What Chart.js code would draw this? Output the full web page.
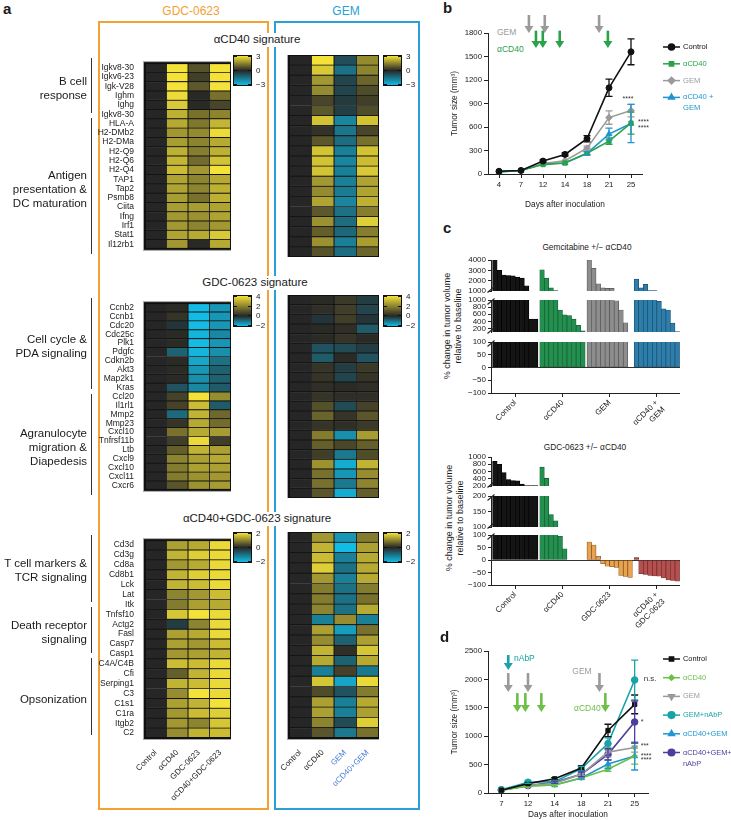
<!DOCTYPE html>
<html><head><meta charset="utf-8">
<script src="https://cdn.jsdelivr.net/npm/chart.js@4.4.1/dist/chart.umd.min.js"></script>
<style>
html,body{margin:0;padding:0;background:#fff;}
body{width:731px;height:820px;position:relative;overflow:hidden;font-family:'Liberation Sans',Arial,Helvetica,sans-serif;color:#1a1a1a;}
canvas{position:absolute;}
.t{position:absolute;white-space:nowrap;line-height:1.15;}
.bx{position:absolute;box-sizing:border-box;}
</style></head><body>
<script>
// ================= DATA =================
const condGDC = ['Control','αCD40','GDC-0623','αCD40+GDC-0623'];
const condGEM = ['Control','αCD40','GEM','αCD40+GEM'];

const genesCD40 = ['Igkv8-30','Igkv6-23','Igk-V28','Ighm','Ighg','Igkv8-30','HLA-A','H2-DMb2','H2-DMa','H2-Q9','H2-Q6','H2-Q4','TAP1','Tap2','Psmb8','Ciita','Ifng','Irf1','Stat1','Il12rb1'];
const genesGDC = ['Ccnb2','Ccnb1','Cdc20','Cdc25c','Plk1','Pdgfc','Cdkn2b','Akt3','Map2k1','Kras','Ccl20','Il1rl1','Mmp2','Mmp23','Cxcl10','Tnfrsf11b','Ltb','Cxcl9','Cxcl10','Cxcl11','Cxcr6'];
const genesCombo = ['Cd3d','Cd3g','Cd8a','Cd8b1','Lck','Lat','Itk','Tnfsf10','Actg2','Fasl','Casp7','Casp1','C4A/C4B','Cfi','Serping1','C3','C1s1','C1ra','Itgb2','C2'];

const groupsCD40 = [['B cell','response'],['Antigen','presentation &','DC maturation']];
const groupRowsCD40 = [[0,5],[6,19]];
const groupsGDC = [['Cell cycle &','PDA signaling'],['Agranulocyte','migration &','Diapedesis']];
const groupRowsGDC = [[0,9],[10,20]];
const groupsCombo = [['T cell markers &','TCR signaling'],['Death receptor','signaling'],['Opsonization']];
const groupRowsCombo = [[0,6],[7,11],[12,19]];

// colour-scale ranges [min, max] and colourbar tick labels
const rangeCD40 = [-3,3], ticksCD40 = [3,0,-3];
const rangeGDC = [-2,4], ticksGDC = [4,2,0,-2];
const rangeCombo = [-2,2], ticksCombo = [2,0,-2];

// rows: [Control, αCD40, drug, αCD40+drug]
const cd40SigGDC = [[0,3.0,0.7,3.0],[0,3.0,0.4,3.0],[0,3.0,0.8,3.0],[0,2.9,0.05,1.2],[0,2.6,0.05,0.5],[0,2.2,1.2,1.5],[0,2.1,1.3,2.3],[0,1.8,1.6,2.9],[0,1.9,1.5,2.1],[0,2.2,1.4,2.2],[0,2.3,1.1,2.5],[0,2.4,1.8,3.0],[0,2.0,1.5,2.1],[0,2.0,1.5,2.2],[0,1.9,1.2,2.2],[0,1.9,1.9,2.0],[0,1.8,1.7,2.0],[0,1.8,1.5,1.8],[0,2.0,2.1,2.6],[0,1.8,0.05,2.1]];
const cd40SigGEM = [[0,3.0,-0.8,1.6],[0,2.6,-1.5,1.5],[0,1.8,-0.6,1.0],[0,1.6,-0.6,0.6],[0,0.5,-0.4,0.4],[0,0.8,-0.5,0.6],[0,2.5,-1.9,2.5],[0,0.2,-1.6,0.5],[0,0.8,-1.4,1.2],[0,2.5,-1.8,2.5],[0,2.5,-1.9,2.4],[0,2.5,-1.8,2.6],[0,1.8,-1.8,2.0],[0,1.6,-1.7,2.0],[0,2.0,-1.9,2.2],[0,0.8,-1.5,1.4],[0,1.7,-1.4,2.7],[0,0.9,-1.3,1.4],[0,1.7,-1.8,1.9],[0,0.7,-1.4,1.0]];
const gdcSigGDC = [[0,0.1,-2.0,-1.5],[0,0.3,-2.0,-1.5],[0,-0.2,-2.0,-1.5],[0,0.1,-1.9,-1.3],[0,0.1,-2.0,-1.5],[0,-0.8,-1.9,-1.4],[0,0.1,-1.7,-1.0],[0,0.1,-1.5,-0.8],[0,0.1,-1.4,-0.8],[0,-0.6,-1.3,-0.7],[0,0.6,4.0,2.2],[0,0.6,3.2,-0.7],[0,-0.9,3.0,1.4],[0,0.3,2.8,1.5],[0,1.6,2.8,2.5],[0,0.5,3.8,0.5],[0,1.2,3.0,2.6],[0,2.0,2.6,2.8],[0,1.8,2.6,2.6],[0,1.8,2.3,2.4],[0,1.0,2.3,2.5]];
const gdcSigGEM = [[0,0.1,0.4,-0.3],[0,0.2,0.5,-0.4],[0,-0.2,0.5,-0.2],[0,0.1,0.2,-0.7],[0,0.1,0.3,0.1],[0,-0.6,-0.5,-0.3],[0,-0.7,0.1,-0.6],[0,0.3,-0.3,0.4],[0,0.3,-0.4,0.3],[0,0.2,0.1,0.2],[0,0.3,0.2,0.2],[0,0.9,-0.5,0.6],[0,1.3,0.3,1.0],[0,0.3,0.2,0.4],[0,1.8,-1.4,2.5],[0,1.2,0.7,1.2],[0,0.5,-1.1,0.8],[0,2.3,-1.8,3.0],[0,1.6,-1.5,2.2],[0,1.6,-1.1,2.0],[0,1.0,-1.8,1.2]];
const comboSigGDC = [[0,1.3,1.4,1.9],[0,1.5,1.8,1.9],[0,1.2,1.4,1.9],[0,1.5,1.8,1.9],[0,1.5,1.6,1.9],[0,1.0,1.2,1.6],[0,0.9,1.3,1.4],[0,1.7,2.0,1.9],[0,-0.3,1.0,1.9],[0,1.3,1.4,1.9],[0,1.3,1.2,1.6],[0,1.2,1.3,1.5],[0,1.6,1.6,1.9],[0,0.6,1.5,1.9],[0,1.5,1.6,1.9],[0,1.1,2.0,1.9],[0,1.3,1.5,2.0],[0,1.2,1.6,1.8],[0,1.2,1.0,1.7],[0,1.1,1.5,1.6]];
const comboSigGEM = [[0,1.2,-1.5,0.9],[0,1.5,-2.0,1.3],[0,1.6,-1.2,1.4],[0,1.8,-1.0,1.4],[0,1.2,-1.2,1.4],[0,0.9,-1.0,0.9],[0,0.9,-1.0,0.8],[0,1.0,-1.0,1.4],[0,-1.2,1.1,-1.2],[0,1.3,-1.6,0.8],[0,1.1,-0.8,1.3],[0,1.5,0.1,1.7],[0,1.4,-0.8,1.4],[0,-1.2,0.3,-1.1],[0,1.7,-1.7,1.9],[0,0.4,-0.6,0.9],[0,1.3,-1.2,1.4],[0,1.3,-1.2,1.3],[0,1.0,-0.5,1.8],[0,0.5,-1.1,0.8]];

// panel b
const daysB = ['4','7','12','14','18','21','25'];
const bTicks = [0,300,600,900,1200,1500,1800];
const bControl = [35,45,165,250,450,1100,1560];
const bControlErr = [0,0,15,20,40,110,165];
const bCD40 = [30,45,120,140,265,420,650];
const bCD40Err = [0,0,0,0,20,40,140];
const bGEM = [30,45,135,170,330,720,810];
const bGEMErr = [0,0,0,0,25,85,80];
const bCombo = [25,45,130,140,265,510,645];
const bComboErr = [0,0,0,0,20,75,245];

// panel c (top): % change relative to baseline per mouse
const cTopLabels = ['Control','αCD40','GEM',['αCD40 +','GEM']];
const cTopControl = [4000,3000,2550,2500,2480,2350,2250,1500,460,460];
const cTopCD40 = [3050,2250,1300,1050,720,580,560,460,290,130];
const cTopGEM = [4000,3200,1700,1300,1250,1250,980,720,360];
const cTopCombo = [2150,1300,1650,1050,1050,960,750,720,350,110];
const cTopTicks = [[1000,2000,3000,4000],[200,400,600,800,1000],[-100,-50,0,50,100]];
// panel c (bottom)
const cBotLabels = ['Control','αCD40','GDC-0623',['αCD40 +','GDC-0623']];
const cBotControl = [880,800,570,380,350,340,250,210,210,210];
const cBotCD40 = [720,410,140,120,95,45];
const cBotGDC = [72,60,15,-15,-25,-27,-30,-62,-66,-70];
const cBotCombo = [10,-55,-58,-62,-64,-65,-72,-80,-82,-85];
const cBotTicks = [[200,400,600,800,1000],[100,150,200],[-100,-50,0,50,100]];

// panel d
const daysD = ['7','12','14','18','21','25'];
const dTicks = [0,500,1000,1500,2000,2500];
const dControl = [50,165,250,440,1100,1560];
const dControlErr = [0,15,20,40,110,165];
const dCD40 = [50,120,140,265,420,650];
const dCD40Err = [0,0,0,20,40,140];
const dGEM = [50,130,170,330,720,800];
const dGEMErr = [0,0,0,25,85,80];
const dGEMnab = [55,190,200,430,870,1990];
const dGEMnabErr = [0,20,20,40,100,350];
const dCombo = [50,130,140,265,510,650];
const dComboErr = [0,0,0,20,75,245];
const dComboNab = [55,130,190,330,680,1250];
const dComboNabErr = [0,0,20,40,100,370];

// ================= SETUP =================
const FONT = "'Liberation Sans', Arial, Helvetica, sans-serif";
Chart.defaults.font.family = FONT;
Chart.defaults.color = '#1a1a1a';
Chart.defaults.animation = false;
Chart.defaults.responsive = false;
Chart.defaults.plugins.legend.display = false;
Chart.defaults.plugins.tooltip.enabled = false;

function mkCanvas(l,t,w,h){const c=document.createElement('canvas');c.width=w;c.height=h;c.style.left=l+'px';c.style.top=t+'px';c.style.width=w+'px';c.style.height=h+'px';document.body.appendChild(c);return c;}
function txt(s,x,y,o={}){const d=document.createElement('div');d.className='t';const fs=o.size||11;d.style.fontSize=fs+'px';d.style.color=o.color||'#1a1a1a';if(o.bold)d.style.fontWeight='bold';d.textContent=s;d.style.top=(y-fs*1.15/2)+'px';
 if(o.align==='right'){d.style.right=(731-x)+'px';d.style.textAlign='right';}
 else if(o.align==='center'){d.style.left=x+'px';d.style.transform='translateX(-50%)';}
 else d.style.left=x+'px';
 if(o.bg){d.style.background=o.bg;d.style.padding='0 3px';}
 document.body.appendChild(d);return d;}
function box(l,t,w,h,css){const d=document.createElement('div');d.className='bx';Object.assign(d.style,{left:l+'px',top:t+'px',width:w+'px',height:h+'px'},css);document.body.appendChild(d);return d;}
const fmt = v => v<0 ? '\u2212'+Math.abs(v) : String(v);

const DARK=[38,38,38], YEL=[244,226,56], CYA=[18,188,228];
function colorFor(v,vmin,vmax){let t,c;if(v>=0){t=Math.min(v/vmax,1);c=YEL;}else{t=Math.min(v/vmin,1);c=CYA;}
 return 'rgb('+DARK.map((d,i)=>Math.round(d+(c[i]-d)*t)).join(',')+')';}

// ================= PANEL A (frames and titles) =================
txt('a',3,9,{size:15,bold:true});
box(98,21,171,789,{border:'2px solid #f3a133'});
box(274,21,146,789,{border:'2px solid #2aa0d4'});
txt('GDC-0623',191,12,{size:12,color:'#f3a133',align:'center'});
txt('GEM',346,12,{size:12,color:'#2aa0d4',align:'center'});
txt('αCD40 signature',257,40,{size:11.5,align:'center',bg:'#fff'});
txt('GDC-0623 signature',255,283,{size:11.5,align:'center',bg:'#fff'});
txt('αCD40+GDC-0623 signature',257,519,{size:11.5,align:'center',bg:'#fff'});

const framePlugin={id:'frame',afterDatasetsDraw(ch){const a=ch.chartArea,c=ch.ctx;c.save();c.strokeStyle='#101010';c.lineWidth=2;c.strokeRect(a.left,a.top,a.width,a.height);c.strokeStyle='rgba(0,0,0,0.35)';c.lineWidth=1;c.strokeRect(a.left-1.5,a.top-1.5,a.width+3,a.height+3);c.restore();}};

function heatmap(l,t,w,h,genes,conds,rows,rng,showGenes,showX,xColor){
 const cv=mkCanvas(l,t,w,h);
 const datasets=conds.map((c,j)=>({label:c,data:genes.map(()=>1),backgroundColor:rows.map(r=>colorFor(r[j],rng[0],rng[1])),borderColor:'#141414',borderWidth:0.8,borderSkipped:false,barPercentage:1,categoryPercentage:1}));
 const scales={
  x:{stacked:true,min:0,max:conds.length,display:false},
  y:{stacked:true,grid:{display:false},border:{display:false},ticks:{display:showGenes,font:{size:8.5},color:'#222',padding:3,autoSkip:false},afterFit:s=>{s.width=showGenes?70:20;}}
 };
 if(showX) scales.xl={type:'category',labels:conds,position:'bottom',offset:true,grid:{display:false},border:{display:false},
   ticks:{autoSkip:false,minRotation:45,maxRotation:45,font:{size:8},padding:2,color:c=>xColor(c.index)},afterFit:s=>{s.height=64;}};
 new Chart(cv,{type:'bar',data:{labels:genes,datasets},options:{indexAxis:'y',layout:{padding:0},scales},plugins:[framePlugin]});
}
function colorbar(x,y,w,h,rng,ticks){
 const z=rng[1]/(rng[1]-rng[0])*100;
 box(x,y,w,h,{border:'1.5px solid #111',background:`linear-gradient(to bottom, ${colorFor(rng[1],rng[0],rng[1])} 0%, ${colorFor(0,rng[0],rng[1])} ${z}%, ${colorFor(rng[0],rng[0],rng[1])} 100%)`});
 ticks.forEach(v=>{const yy=y+1.5+(rng[1]-v)/(rng[1]-rng[0])*(h-3);
  box(x+1,yy-0.5,3,1,{background:'#111'});box(x+w-4,yy-0.5,3,1,{background:'#111'});
  txt(fmt(v),x+w+4,yy,{size:8});});
}
function groupLabels(names,rowsIdx,top,rowH){
 names.forEach((lines,i)=>{const y0=top+rowsIdx[i][0]*rowH,y1=top+(rowsIdx[i][1]+1)*rowH;
  box(90.5,y0+2.5,1,y1-y0-5,{background:'#333'});
  const mid=(y0+y1)/2+3, lh=14;
  lines.forEach((s,k)=>txt(s,87,mid+(k-(lines.length-1)/2)*lh,{size:11.5,align:'right'}));});
}
const blk=()=> '#1a1a1a';
const gemCol=i=> i>=2 ? '#4d7fd6' : '#1a1a1a';

heatmap(75,55,156,202,genesCD40,condGDC,cd40SigGDC,rangeCD40,true,false);
heatmap(269,55,110,202,genesCD40,condGEM,cd40SigGEM,rangeCD40,false,false);
heatmap(75,295,156,203,genesGDC,condGDC,gdcSigGDC,rangeGDC,true,false);
heatmap(269,295,110,203,genesGDC,condGEM,gdcSigGEM,rangeGDC,false,false);
heatmap(75,532,156,270,genesCombo,condGDC,comboSigGDC,rangeCombo,true,true,blk);
heatmap(269,532,110,270,genesCombo,condGEM,comboSigGEM,rangeCombo,false,true,gemCol);
colorbar(233,55,19,31,rangeCD40,ticksCD40);
colorbar(383,55,19,31,rangeCD40,ticksCD40);
colorbar(233,295,19,32,rangeGDC,ticksGDC);
colorbar(383,295,19,32,rangeGDC,ticksGDC);
colorbar(233,532,19,31,rangeCombo,ticksCombo);
colorbar(383,532,19,31,rangeCombo,ticksCombo);
groupLabels(groupsCD40,groupRowsCD40,55,202/20);
groupLabels(groupsGDC,groupRowsGDC,295,203/21);
groupLabels(groupsCombo,groupRowsCombo,532,206/20);

// ================= LINE CHART HELPERS =================
const errPlugin={id:'err',afterDatasetsDraw(ch){const c=ch.ctx,ys=ch.scales.y;c.save();
 ch.data.datasets.forEach((d,i)=>{if(!d.errors)return;const m=ch.getDatasetMeta(i);
  d.errors.forEach((e,j)=>{if(!e)return;const p=m.data[j],v=d.data[j];const y1=ys.getPixelForValue(v+e),y2=ys.getPixelForValue(v-e);
   c.strokeStyle=d.borderColor;c.lineWidth=1.3;c.beginPath();c.moveTo(p.x,y1);c.lineTo(p.x,y2);c.moveTo(p.x-3.5,y1);c.lineTo(p.x+3.5,y1);c.moveTo(p.x-3.5,y2);c.lineTo(p.x+3.5,y2);c.stroke();});});
 c.restore();}};
const legPlugin={id:'leg',afterDraw(ch,args,o){const c=ch.ctx,a=ch.chartArea;c.save();
 ch.data.datasets.forEach((d,i)=>{const y=a.top+o.y0+i*o.dy,x0=a.right+o.x0;
  c.strokeStyle=d.borderColor;c.lineWidth=1.5;c.beginPath();c.moveTo(x0,y);c.lineTo(x0+o.len,y);c.stroke();
  c.fillStyle=d.backgroundColor;Chart.helpers.drawPoint(c,{pointStyle:d.pointStyle,radius:d.pointRadius,rotation:d.pointRotation||0,borderWidth:1},x0+o.len/2,y);
  c.fillStyle=d.borderColor;c.font=o.size+'px '+FONT;c.textBaseline='middle';c.textAlign='left';
  [].concat(d.label).forEach((s,k)=>c.fillText(s,x0+o.len+3,y+k*o.lh));});
 c.restore();}};
const notePlugin={id:'note',afterDraw(ch,args,o){const c=ch.ctx,xs=ch.scales.x,ys=ch.scales.y;c.save();
 (o.arrows||[]).forEach(r=>{const x=xs.getPixelForValue(r.x),y1=ys.getPixelForValue(r.y1),y2=ys.getPixelForValue(r.y2);
  c.strokeStyle=r.color;c.fillStyle=r.color;c.lineWidth=2.6;c.beginPath();c.moveTo(x,y1);c.lineTo(x,y2-5);c.stroke();
  c.beginPath();c.moveTo(x-4.5,y2-7);c.lineTo(x+4.5,y2-7);c.lineTo(x,y2);c.closePath();c.fill();});
 (o.texts||[]).forEach(t=>{c.fillStyle=t.color||'#333';c.font=(t.size||7)+'px '+FONT;c.textAlign=t.align||'left';c.textBaseline='middle';
  c.fillText(t.text,xs.getPixelForValue(t.x)+(t.dx||0),ys.getPixelForValue(t.y));});
 c.restore();}};
function lds(label,data,errors,color,style,r,rot){return {label,data,errors,borderColor:color,backgroundColor:color,pointStyle:style,pointRadius:r,pointRotation:rot||0,pointBorderWidth:1,borderWidth:1.6,tension:0};}
function axisCommon(){return {grid:{drawOnChartArea:false,tickLength:4,color:'#222',tickWidth:1},border:{color:'#222',width:1}};}

// ================= PANEL B =================
txt('b',443,8,{size:15,bold:true});
txt('GEM',497,33,{size:8.5,color:'#9a9a9a'});
txt('αCD40',497,50,{size:8.5,color:'#2aa24a'});
{
 const cv=mkCanvas(450,0,281,210);
 const gx=axisCommon(), gy=axisCommon();
 new Chart(cv,{type:'line',data:{labels:daysB,datasets:[
   lds('Control',bControl,bControlErr,'#111','circle',3),
   lds('αCD40',bCD40,bCD40Err,'#2aa24a','rect',3),
   lds('GEM',bGEM,bGEMErr,'#9a9a9a','rectRot',3.3),
   lds(['αCD40 +','GEM'],bCombo,bComboErr,'#1f95cf','triangle',3.4)]},
  options:{layout:{padding:{top:33,right:89,left:0,bottom:0}},
   scales:{
    x:{offset:true,...gx,ticks:{font:{size:7.8},padding:2,color:'#222'},title:{display:true,text:'Days after inoculation',font:{size:8.3},color:'#222',padding:{top:2,bottom:0}},afterFit:s=>{s.height=36;}},
    y:{min:0,max:1800,...gy,afterBuildTicks:s=>{s.ticks=bTicks.map(v=>({value:v}));},ticks:{font:{size:7.8},padding:2,color:'#222',autoSkip:false,callback:v=>fmt(v)},title:{display:true,text:'Tumor size (mm³)',font:{size:8.3},color:'#222',padding:0},afterFit:s=>{s.width=38;}}},
   plugins:{leg:{x0:21,len:17,y0:14,dy:16.8,lh:11,size:7.6},
    note:{arrows:[{x:1.36,y1:2030,y2:1800,color:'#9a9a9a'},{x:2.08,y1:2030,y2:1800,color:'#9a9a9a'},{x:4.55,y1:2030,y2:1800,color:'#9a9a9a'},
                  {x:1.68,y1:1830,y2:1610,color:'#2aa24a'},{x:1.99,y1:1830,y2:1610,color:'#2aa24a'},{x:2.76,y1:1830,y2:1610,color:'#2aa24a'},{x:4.95,y1:1830,y2:1610,color:'#2aa24a'}],
          texts:[{x:6,y:960,text:'****',align:'center',dx:-3},{x:6,y:665,text:'****',dx:7},{x:6,y:590,text:'****',dx:7}]}}},
  plugins:[errPlugin,legPlugin,notePlugin]});
}

// ================= PANEL C =================
const STRIDE=10.4, XMIN=-0.35, XMAX=41.3;
const brkPlugin={id:'brk',afterDraw(ch,args,o){const a=ch.chartArea,c=ch.ctx;c.save();c.strokeStyle='#222';c.lineWidth=1.1;
 const sl=y=>{c.beginPath();c.moveTo(a.left-3.5,y+3);c.lineTo(a.left+3.5,y-3);c.stroke();};
 if(o.top)sl(a.top+1.5);if(o.bottom)sl(a.bottom-1.5);c.restore();}};
function waterfall(cfg){
 cfg.segs.forEach((sg,si)=>{
  const last=si===cfg.segs.length-1, padT=8, padB=8;
  const h=(sg.bottom-sg.top)+padT+(last?cfg.axisH:padB);
  const cv=mkCanvas(cfg.left,sg.top-padT,cfg.width,h);
  const datasets=cfg.groups.map((vals,gi)=>({data:vals.map((v,i)=>({x:gi*STRIDE+i+0.5,y:v})),backgroundColor:cfg.colors[gi],borderColor:cfg.borders[gi],borderWidth:0.7,borderSkipped:false,grouped:false,barPercentage:1,categoryPercentage:1,clip:0}));
  const xs={type:'linear',offset:false,min:XMIN,max:XMAX,display:last,
       afterBuildTicks:s=>{s.ticks=cfg.labels.map((l,i)=>({value:i*STRIDE+5}));},
       ticks:{autoSkip:false,minRotation:45,maxRotation:45,font:{size:8},padding:1,color:'#222',callback:(v,i)=>cfg.labels[i]},
       grid:{drawOnChartArea:false,tickLength:4,color:'#222',offset:false},border:{color:'#222'}};
  if(last) xs.afterFit=s=>{s.height=cfg.axisH;};
  new Chart(cv,{type:'bar',data:{datasets},options:{
   layout:{padding:{top:padT,bottom:last?0:padB,left:0,right:0}},
   scales:{
    x:xs,
    y:{min:sg.min,max:sg.max,afterBuildTicks:s=>{s.ticks=cfg.ticks[si].map(v=>({value:v}));},
       ticks:{font:{size:8},padding:2,color:'#222',autoSkip:false,callback:v=>fmt(v)},
       grid:{color:c=>(c.tick&&c.tick.value===0&&sg.min<0)?'#333':'rgba(0,0,0,0)',tickColor:'#222',tickLength:3},
       border:{color:'#222'},afterFit:s=>{s.width=cfg.yW;}}},
   plugins:{brk:{top:si>0,bottom:!last}}},plugins:[brkPlugin]});
 });
}
txt('c',443,228,{size:15,bold:true});
txt('Gemcitabine +/\u2212 αCD40',587,248,{size:8.3,align:'center'});
txt('GDC-0623 +/\u2212 αCD40',585,448,{size:8.3,align:'center'});
function ytitle(x,y){const d=document.createElement('div');d.className='t';d.style.fontSize='9px';d.style.textAlign='center';d.style.left=x+'px';d.style.top=y+'px';d.style.transform='translate(-50%,-50%) rotate(-90deg)';d.style.lineHeight='10.5px';d.innerHTML='% change in tumor volume<br>relative to baseline';document.body.appendChild(d);}
ytitle(452,326);
ytitle(454,518);
waterfall({left:440,width:240,yW:51,axisH:45,labels:cTopLabels,ticks:cTopTicks,
 groups:[cTopControl,cTopCD40,cTopGEM,cTopCombo],
 colors:['#141414','#23904f','#8d8d8d','#2d7eaa'],borders:['#000','#0f5a2c','#555','#1a4d6d'],
 segs:[{min:1000,max:4000,top:260,bottom:291},{min:100,max:1000,top:300,bottom:332},{min:-100,max:100,top:342,bottom:393}]});
waterfall({left:440,width:240,yW:51,axisH:45,labels:cBotLabels,ticks:cBotTicks,
 groups:[cBotControl,cBotCD40,cBotGDC,cBotCombo],
 colors:['#141414','#23904f','#e9a24f','#b5504f'],borders:['#000','#0f5a2c','#7a4c18','#6a2828'],
 segs:[{min:200,max:1000,top:457,bottom:486},{min:100,max:200,top:496,bottom:527},{min:-100,max:100,top:535,bottom:585}]});

// ================= PANEL D =================
txt('d',440,637,{size:15,bold:true});
txt('nAbP',514,659,{size:8.5,color:'#18a3a8'});
txt('GEM',582,672,{size:8.5,color:'#9a9a9a',align:'center'});
txt('αCD40',574,709,{size:8.5,color:'#6cbf47'});
{
 const cv=mkCanvas(450,640,281,180);
 const gx=axisCommon(), gy=axisCommon();
 new Chart(cv,{type:'line',data:{labels:daysD,datasets:[
   lds('Control',dControl,dControlErr,'#111','rect',3),
   lds('αCD40',dCD40,dCD40Err,'#6cbf47','rectRot',2.6),
   lds('GEM',dGEM,dGEMErr,'#9a9a9a','triangle',3.4,180),
   lds('GEM+nAbP',dGEMnab,dGEMnabErr,'#18a3a8','circle',3.3),
   lds('αCD40+GEM',dCombo,dComboErr,'#2196d3','triangle',3.4),
   lds(['αCD40+GEM+','nAbP'],dComboNab,dComboNabErr,'#4f3d9e','circle',3.3)]},
  options:{layout:{padding:{top:11,right:83,left:0,bottom:0}},
   scales:{
    x:{offset:true,...gx,ticks:{font:{size:7.8},padding:2,color:'#222'},title:{display:true,text:'Days after inoculation',font:{size:8.3},color:'#222',padding:{top:1,bottom:0}},afterFit:s=>{s.height=27;}},
    y:{min:0,max:2500,...gy,afterBuildTicks:s=>{s.ticks=dTicks.map(v=>({value:v}));},ticks:{font:{size:7.8},padding:2,color:'#222',autoSkip:false,callback:v=>fmt(v)},title:{display:true,text:'Tumor size (mm³)',font:{size:8.3},color:'#222',padding:0},afterFit:s=>{s.width=38;}}},
   plugins:{leg:{x0:15,len:17,y0:8,dy:18.7,lh:11,size:7.4},
    note:{arrows:[{x:0.26,y1:2430,y2:2165,color:'#18a3a8'},
                  {x:0.26,y1:2112,y2:1778,color:'#9a9a9a'},{x:1.0,y1:2112,y2:1778,color:'#9a9a9a'},{x:3.68,y1:2112,y2:1778,color:'#9a9a9a'},
                  {x:0.6,y1:1760,y2:1426,color:'#6cbf47'},{x:0.9,y1:1760,y2:1426,color:'#6cbf47'},{x:1.5,y1:1760,y2:1426,color:'#6cbf47'},{x:3.9,y1:1760,y2:1426,color:'#6cbf47'}],
          texts:[{x:5,y:2006,text:'n.s.',dx:9,size:8},{x:5,y:1250,text:'*',dx:6},{x:5,y:827,text:'***',dx:6},{x:5,y:651,text:'****',dx:6},{x:5,y:581,text:'****',dx:6}]}}},
  plugins:[errPlugin,legPlugin,notePlugin]});
}
</script>
</body></html>
